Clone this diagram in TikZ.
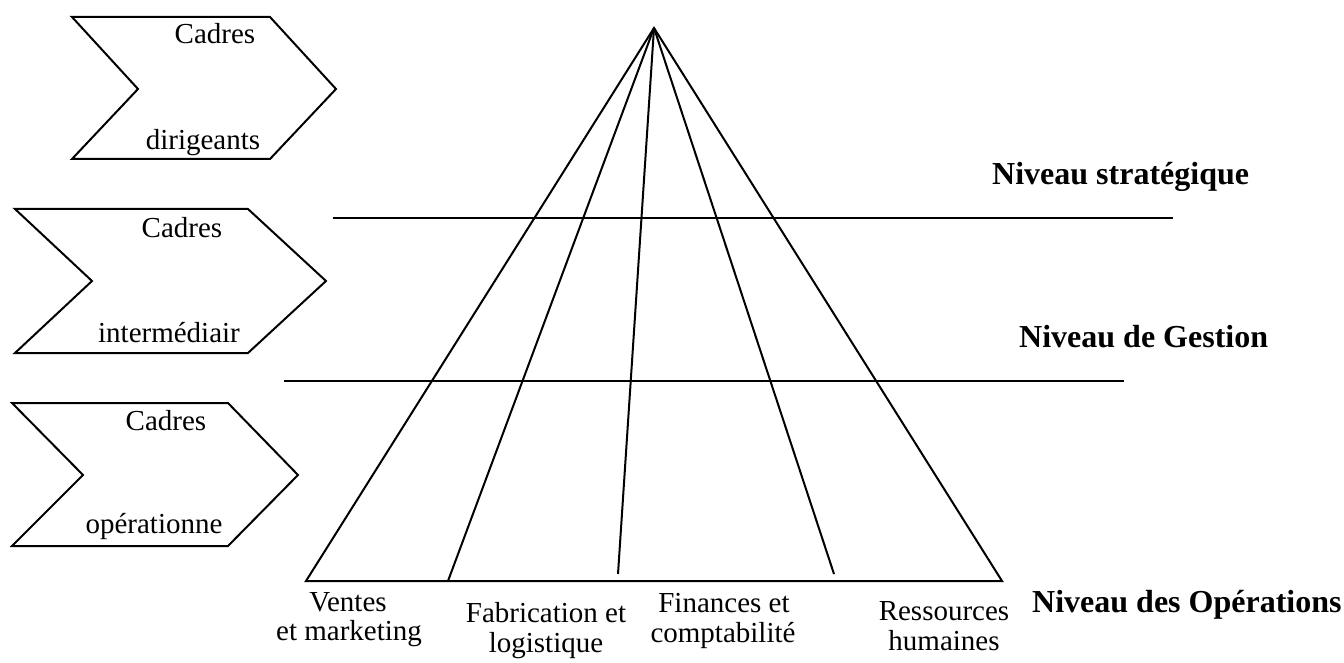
\documentclass[tikz,border=0pt]{standalone}
\usepackage{fontspec}
\setmainfont{Liberation Serif}
\begin{document}
\begin{tikzpicture}[x=1pt,y=-1pt,
  edge/.style={line width=2pt,line join=miter},
  txt/.style={inner sep=0pt,anchor=base,font=\fontsize{29}{30}\selectfont},
  level/.style={inner sep=0pt,anchor=base west,font=\fontsize{32}{34}\selectfont\bfseries}]
\useasboundingbox (0,0) rectangle (1344,663);

% chevrons for the three management levels
\draw[edge] (72,17) -- (270,17) -- (336,89) -- (270,159) -- (72,159) -- (138,89) -- cycle;
\draw[edge] (15,209) -- (248,209) -- (326,281) -- (248,353) -- (15,353) -- (92,281) -- cycle;
\draw[edge] (12,403) -- (228,403) -- (298,475) -- (228,546) -- (12,546) -- (83,475) -- cycle;

\node[txt] (c1a) at (215,44) {Cadres};
\node[txt] (c1b) at (203,150) {dirigeants};
\node[txt] (c2a) at (182,237) {Cadres};
\node[txt] (c2b) at (169,342) {intermédiair};
\node[txt] (c3a) at (166,430) {Cadres};
\node[txt] (c3b) at (154,533) {opérationne};

% pyramid
\coordinate (apex) at (654,28);
\coordinate (bl) at (306,581);
\coordinate (br) at (1002,581);
\coordinate (f1) at (448,581);
\coordinate (f2) at (618,574);
\coordinate (f3) at (834,574);
\draw[edge] (bl) -- (apex) -- (br) -- cycle;
\draw[edge] (apex) -- (f1);
\draw[edge] (apex) -- (f2);
\draw[edge] (apex) -- (f3);

% level separators
\coordinate (s1a) at (333,218);
\coordinate (s1b) at (1173,218);
\coordinate (s2a) at (284,381);
\coordinate (s2b) at (1124,381);
\draw[edge] (s1a) -- (s1b);
\draw[edge] (s2a) -- (s2b);

% level names
\node[level] (lv1) at (992,185) {Niveau stratégique};
\node[level] (lv2) at (1019,347) {Niveau de Gestion};
\node[level] (lv3) at (1032,612) {Niveau des Opérations};

% functional areas
\node[txt] (v1) at (348,611) {Ventes};
\node[txt] (v2) at (349,640) {et marketing};
\node[txt] (fa1) at (546,622) {Fabrication et};
\node[txt] (fa2) at (546,652) {logistique};
\node[txt] (fi1) at (724,612) {Finances et};
\node[txt] (fi2) at (723,642) {comptabilité};
\node[txt] (r1) at (944,620) {Ressources};
\node[txt] (r2) at (944,650) {humaines};
\end{tikzpicture}
\end{document}
